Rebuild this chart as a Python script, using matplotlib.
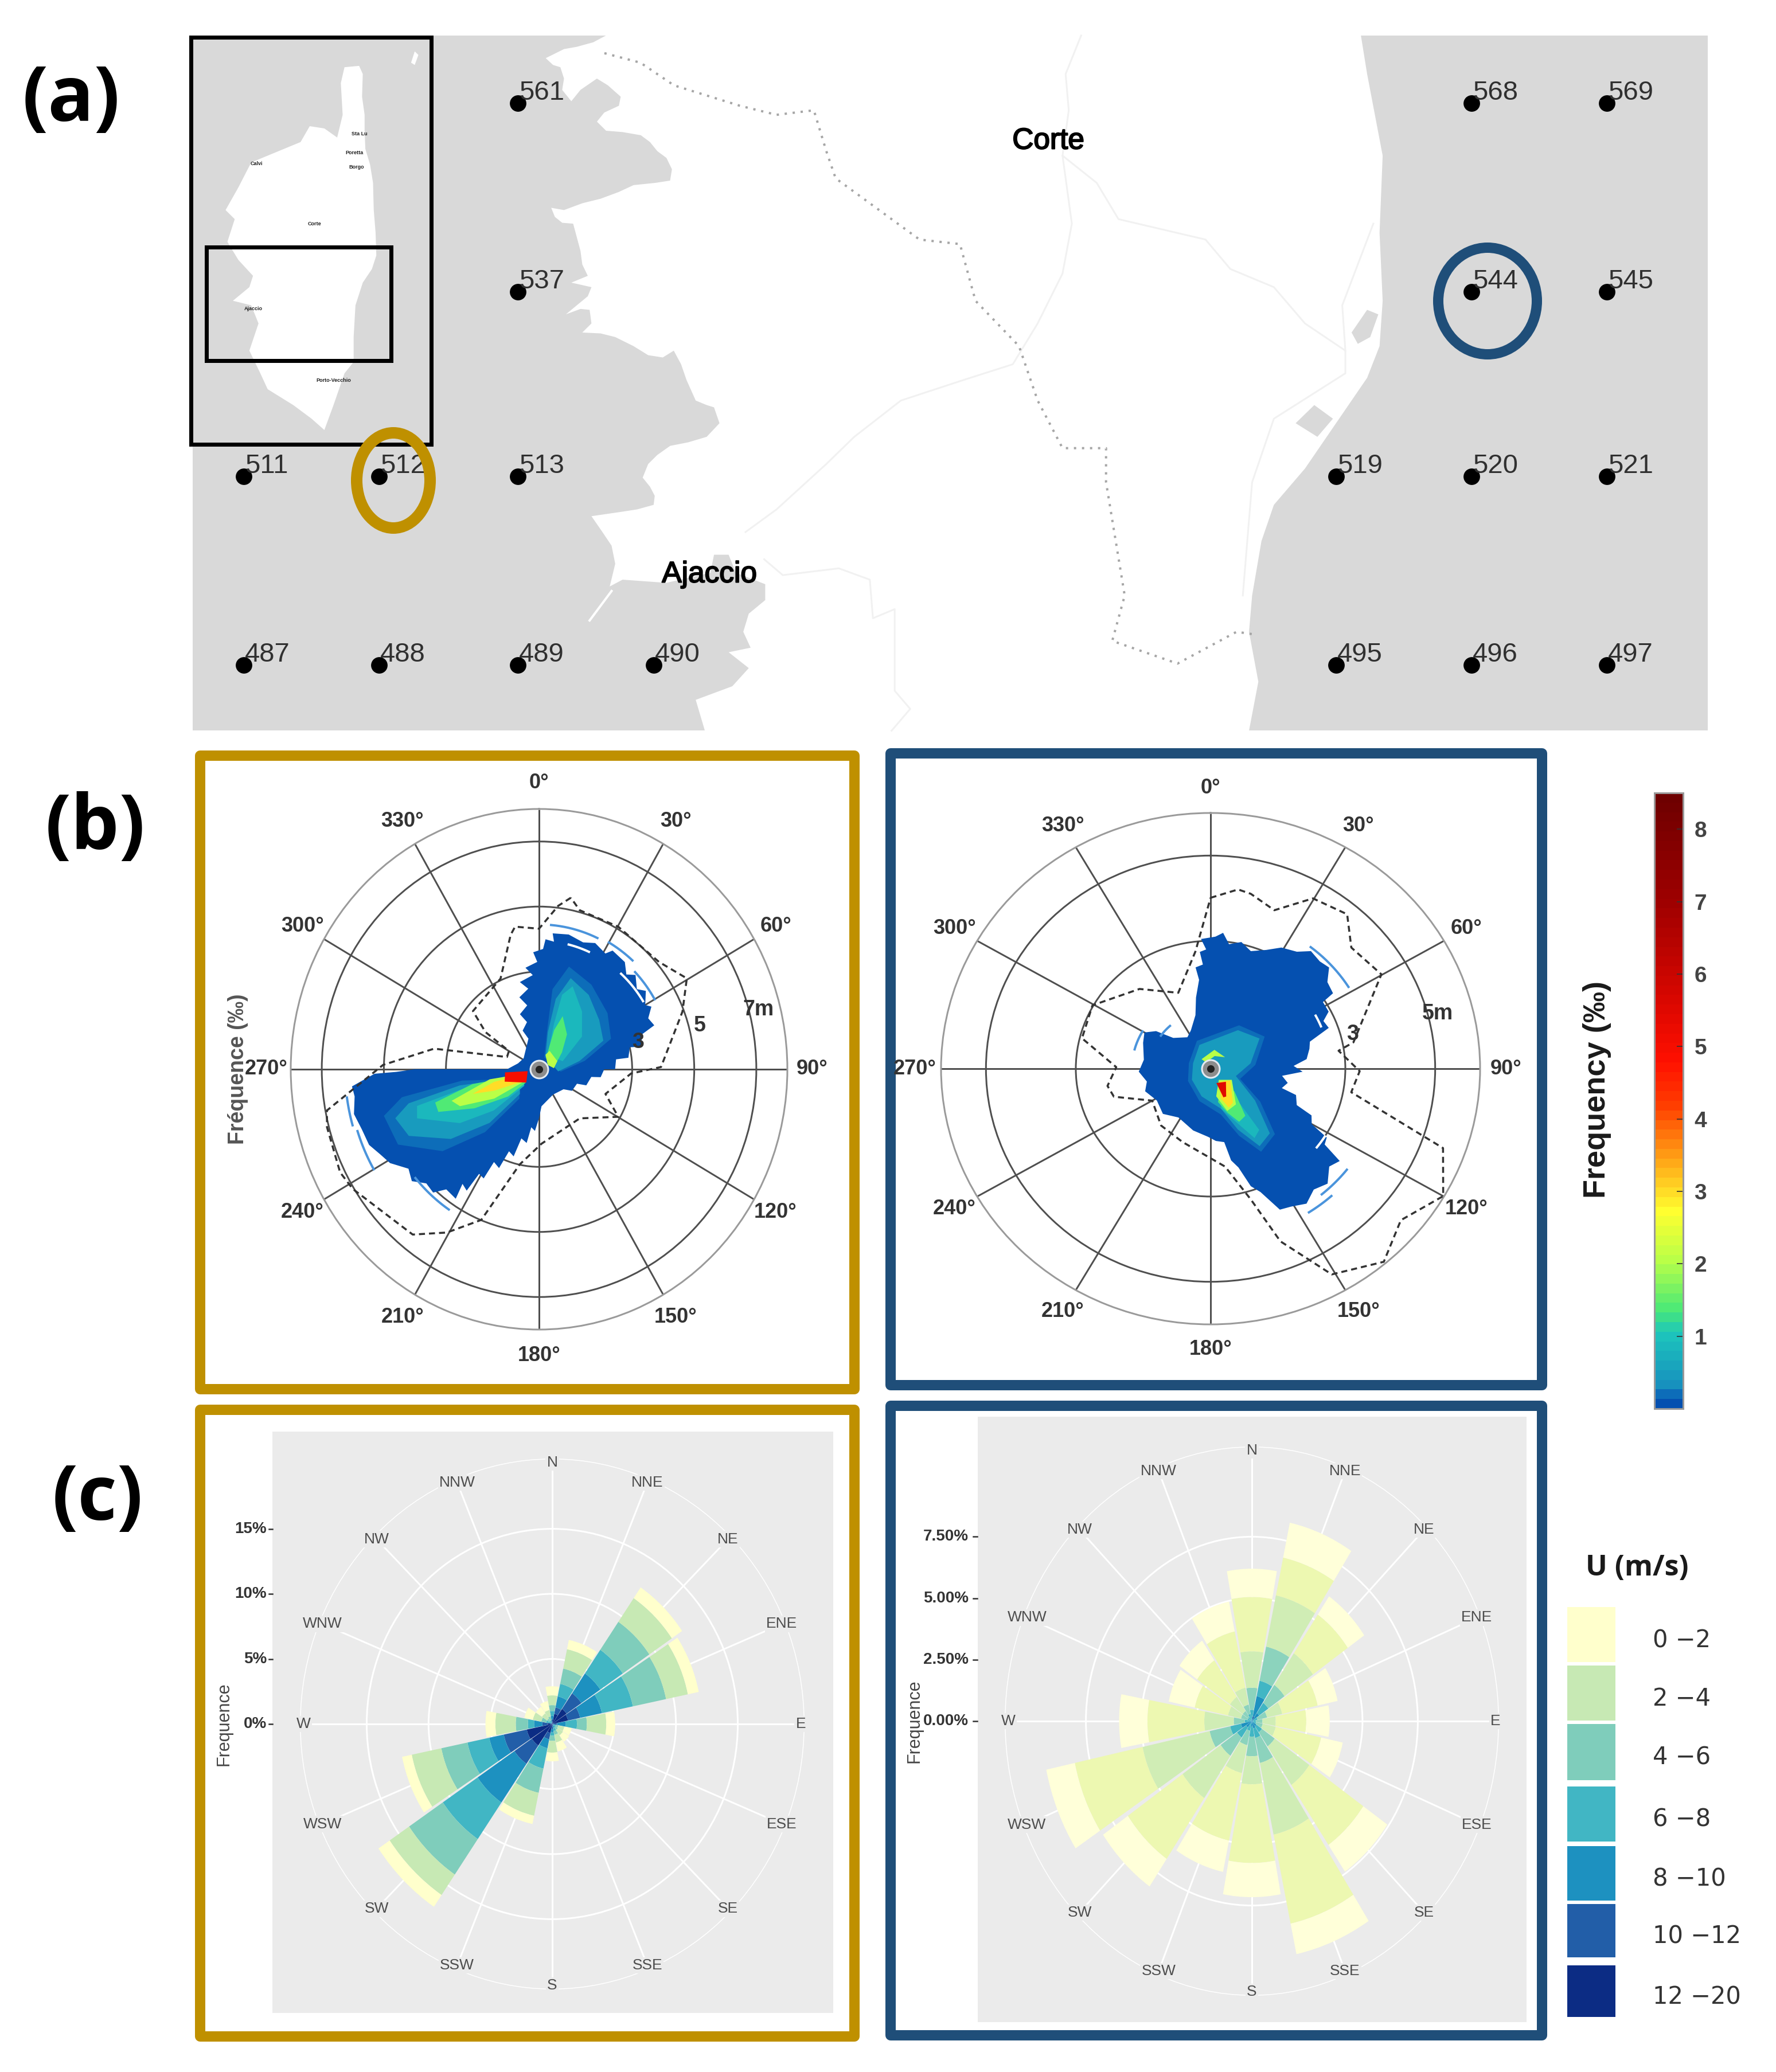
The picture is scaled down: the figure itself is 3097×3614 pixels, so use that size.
import numpy as np
import matplotlib
matplotlib.use('Agg')
import matplotlib.pyplot as plt
from matplotlib.colors import LinearSegmentedColormap, Normalize
from matplotlib.cm import ScalarMappable
from matplotlib.patches import Rectangle, Ellipse, Polygon
import matplotlib.patheffects as pe

plt.rcParams['font.family'] = ['Liberation Sans', 'DejaVu Sans']

W, H = 3097, 3614
GOLD = '#BF9000'
BLUE = '#1F4E79'
SEA = '#D9D9D9'

west_coast = [(1155, 15), (1120, 30), (1075, 40), (1040, 45), (990, 65), (1010, 80), (1030, 85), (1040, 110),
              (1035, 135), (1060, 160), (1085, 135), (1130, 110), (1160, 125), (1195, 150), (1190, 170), (1150, 185),
              (1130, 205), (1155, 225), (1200, 228), (1250, 235), (1275, 250), (1295, 270), (1320, 285), (1335, 310),
              (1330, 335), (1290, 340), (1230, 345), (1190, 360), (1140, 375), (1090, 385), (1040, 400), (1005, 395),
              (1015, 415), (1035, 428), (1065, 430), (1075, 460), (1085, 490), (1090, 520), (1105, 545), (1060, 560),
              (1115, 570), (1105, 590), (1075, 610), (1045, 630), (1085, 618), (1110, 620), (1115, 650), (1090, 670),
              (1140, 672), (1180, 680), (1230, 700), (1270, 720), (1310, 725), (1340, 710), (1360, 740), (1375, 775),
              (1400, 820), (1430, 830), (1450, 835), (1465, 870), (1430, 900), (1380, 912), (1330, 920), (1295, 940),
              (1270, 960), (1255, 990), (1275, 1010), (1288, 1030), (1285, 1050), (1240, 1060), (1200, 1065),
              (1115, 1075), (1145, 1110), (1170, 1140), (1180, 1180), (1165, 1230), (1200, 1215), (1320, 1222),
              (1440, 1200), (1450, 1160), (1490, 1160), (1510, 1200), (1590, 1225), (1590, 1260), (1545, 1290),
              (1530, 1330), (1550, 1365), (1490, 1375), (1545, 1410), (1500, 1450), (1400, 1480), (1425, 1548)]
east_coast = [(810, 1548), (825, 1440), (810, 1330), (815, 1250), (830, 1130), (850, 1050), (900, 970), (950, 870),
              (1000, 770), (1020, 700), (1025, 600), (1020, 450), (1025, 280), (1000, 100), (990, 15)]
pond_north = [(975, 670), (1000, 620), (1018, 630), (1005, 680), (985, 695)]
pond_south = [(885, 870), (915, 830), (945, 860), (920, 900)]
road_a = [(540, 15), (515, 100), (520, 180), (510, 280), (525, 430), (510, 540), (470, 650), (430, 740), (350, 775),
          (250, 820), (175, 900), (130, 960), (50, 1060), (0, 1110)]
road_b = [(510, 280), (565, 340), (600, 420), (740, 465), (780, 530), (850, 570), (900, 650), (965, 710), (965, 760),
          (850, 860), (815, 1000), (800, 1250)]
road_c = [(1010, 430), (960, 610), (965, 710)]
road_d = [(30, 1170), (60, 1205), (150, 1190), (200, 1215), (205, 1300), (240, 1280), (240, 1460), (265, 1500),
          (235, 1548)]
border_line = [(-227, 54), (-169, 75), (-115, 125), (-68, 145), (-9, 170), (50, 190), (110, 180), (130, 270),
               (145, 330), (280, 465), (345, 475), (370, 600), (440, 700), (470, 820), (510, 925), (580, 925),
               (580, 1000), (610, 1250), (590, 1350), (695, 1400), (790, 1330), (815, 1335)]
island = [(440, 85), (480, 82), (490, 100), (488, 150), (495, 190), (495, 225), (497, 265), (510, 300), (518, 340),
          (520, 400), (525, 450), (527, 500), (515, 530), (490, 560), (470, 610), (465, 680), (465, 735), (440, 760),
          (410, 830), (385, 885), (350, 860), (300, 830), (230, 795), (210, 760), (180, 710), (205, 650), (185, 610),
          (135, 600), (180, 570), (190, 545), (150, 510), (120, 470), (140, 420), (115, 400), (150, 350), (185, 295),
          (320, 250), (345, 215), (385, 220), (420, 240), (435, 190), (430, 120)]
islet = [(622, 75), (632, 50), (642, 58), (632, 80)]

station_ids = [561, 537, 511, 512, 513, 487, 488, 489, 490, 568, 569, 544, 545, 519, 520, 521, 495, 496, 497]
station_x = [903, 903, 425, 661, 903, 425, 661, 903, 1140, 2566, 2802, 2566, 2802, 2330, 2566, 2802, 2330, 2566, 2802]
station_y = [180, 509, 831, 831, 831, 1160, 1160, 1160, 1160, 180, 180, 509, 509, 831, 831, 831, 1160, 1160, 1160]

inset_names = ['Sta Lu', 'Poretta', 'Borgo', 'Calvi', 'Corte', 'Ajaccio', 'Porto-Vecchio']
inset_x = [627, 618, 622, 447, 548, 442, 582]
inset_y = [233, 266, 291, 285, 390, 538, 663]

# ---- panel (b): radial frequency plots, direction in degrees and radius in m
dash_left_dir = [11, 7, 0, 350, 347.5, 336, 310, 303.5, 300, 290, 280.6, 271.5, 259.5, 255.4, 243.7, 238.5, 218.7,
                 210.6, 201.9, 192, 178, 139, 119.8, 109.5, 92.5, 89, 69, 59.6, 49.5, 30.2, 15, 11]
dash_left_r = [5.37, 5.06, 4.32, 4.45, 4.23, 3.05, 2.78, 2.07, 1.12, 1.1, 3.44, 5.03, 6.95, 7.06, 7.15, 7.04, 6.51,
               5.83, 4.99, 2.99, 2.29, 2.0, 2.94, 2.27, 2.97, 3.93, 4.95, 5.52, 5.08, 5.07, 5.06, 5.37]
dash_right_dir = [0, 8.3, 12.3, 20.9, 29.7, 40, 47.8, 59.8, 79, 81.6, 91, 100, 109.8, 120, 130, 139.6, 150.8, 159,
                  163.7, 172, 200, 219.6, 240, 253, 260, 271, 284, 299.5, 319.8, 338, 353, 360]
dash_right_r = [4.01, 4.25, 4.2, 3.98, 4.6, 4.73, 4.23, 4.4, 3.24, 2.88, 3.32, 3.18, 5.5, 5.98, 5.53, 5.95, 5.53, 4.34,
                3.2, 2.32, 1.83, 1.73, 1.5, 2.25, 2.33, 2.1, 2.95, 3.02, 2.45, 1.92, 2.77, 4.01]

# outline of the lowest frequency zone, with the teeth of its edge
outline_left_dir = [340, 336, 345, 340, 349, 344, 352, 347, 356, 352, 359, 357, 2, 3, 7, 6, 13, 20, 25, 31, 33, 40, 44,
                    47, 52, 55, 60, 62, 66, 70, 72, 78, 77, 83, 83, 90, 90, 97, 98, 108, 110, 122, 128, 150, 176, 180,
                    184, 188, 190, 195, 197, 201, 203, 207, 208, 211, 212, 215, 214, 219, 222, 226, 230, 234, 239, 243,
                    247, 252, 257, 262, 265, 267, 268.5, 269, 270, 270, 285, 304]
outline_left_r = [1.0, 1.3, 1.5, 1.8, 2.0, 2.3, 2.5, 2.75, 2.9, 3.15, 3.3, 3.6, 3.7, 4.0, 3.95, 4.2, 4.25, 4.15, 4.28,
                  4.15, 4.35, 4.3, 4.05, 4.25, 4.0, 4.2, 3.95, 4.1, 3.85, 3.95, 3.5, 3.35, 3.0, 2.9, 2.5, 2.45, 2.1,
                  2.0, 1.7, 1.6, 1.3, 1.25, 1.0, 0.9, 1.14, 1.5, 1.9, 1.8, 2.3, 2.2, 2.8, 2.7, 3.3, 3.2, 3.8, 3.75, 4.4,
                  4.3, 4.8, 4.75, 5.1, 5.05, 5.35, 5.2, 5.6, 5.75, 5.95, 6.0, 6.12, 6.0, 6.05, 5.6, 5.3, 4.6, 4.0, 1.03,
                  0.7, 0.6]
outline_right_dir = [334, 345, 349, 353, 352, 356, 355, 358, 356, 2, 5, 8, 13, 18, 24, 29, 35, 39, 44, 48, 52, 57, 58,
                     63, 66, 70, 74, 78, 84, 88, 92, 96, 101, 106, 108, 114, 116, 120, 122, 125, 127, 131, 136, 141,
                     146, 151, 155, 159, 162, 165, 168, 170, 176, 182, 195, 212, 225, 238, 250, 258, 267.5, 278, 292,
                     300, 306, 311, 325]
outline_right_r = [1.0, 1.3, 1.7, 2.1, 2.4, 2.45, 2.75, 2.8, 3.05, 3.1, 3.2, 2.95, 3.05, 2.9, 3.05, 3.25, 3.35, 3.55,
                   3.5, 3.55, 3.3, 3.25, 2.95, 2.95, 2.75, 2.8, 2.3, 2.25, 2.15, 1.85, 2.05, 1.6, 1.75, 1.65, 2.0, 2.1,
                   2.5, 2.6, 3.05, 3.1, 3.6, 3.5, 3.75, 3.65, 3.82, 3.7, 3.65, 3.1, 2.9, 2.4, 2.2, 1.75, 1.7, 1.6, 1.5,
                   1.35, 1.5, 1.41, 1.55, 1.45, 1.6, 1.5, 1.62, 1.7, 1.5, 1.1, 0.9]

# (frequency level, directions, radii) of the filled zones, lowest level first
zones_left = [
    (0.02, outline_left_dir, outline_left_r),
    (0.2, [25, 12, 10, 17, 33, 52, 68, 80, 96], [0.4, 1.3, 2.5, 3.3, 3.1, 2.8, 2.5, 1.5, 0.7]),
    (0.2, [245, 262, 259, 254, 243, 231, 222, 215], [0.7, 2.5, 4.5, 5.2, 5.1, 4.0, 2.6, 1.1]),
    (0.5, [29, 14, 14, 20, 35, 52, 67, 79, 96], [0.43, 1.17, 2.23, 2.98, 2.79, 2.46, 2.25, 1.33, 0.62]),
    (0.5, [248, 259, 256, 252, 244, 233, 224, 219], [0.67, 2.6, 4.33, 4.87, 4.67, 3.56, 2.29, 0.98]),
    (0.9, [32, 19, 18, 23, 38, 54, 72], [0.52, 1.48, 2.41, 2.77, 2.25, 1.71, 0.8]),
    (0.9, [248, 256, 254, 249, 237, 229, 223], [0.52, 2.63, 4.09, 4.21, 3.04, 1.93, 0.7]),
    (1.4, [30, 22, 25, 40, 55, 70], [0.5, 1.3, 1.8, 1.4, 0.9, 0.6]),
    (1.4, [252, 258, 253, 248, 240, 230, 226], [0.5, 2.2, 3.5, 3.5, 2.4, 1.3, 0.6]),
    (2.1, [25, 31, 67, 86, 65], [0.49, 0.66, 0.64, 0.48, 0.31]),
    (2.1, [255, 259, 251, 246, 238, 232], [0.5, 1.62, 2.98, 2.79, 1.7, 0.61]),
    (3.0, [253, 255, 250.5, 245.5, 233], [0.5, 1.5, 2.27, 1.59, 0.6]),
    (5.0, [261, 265, 251, 225], [0.37, 1.1, 1.17, 0.58]),
]
zones_right = [
    (0.02, outline_right_dir, outline_right_r),
    (0.2, [285, 335, 32, 58, 85, 110, 125, 137, 150, 158, 168, 198, 240],
     [0.5, 0.72, 1.2, 1.42, 1.0, 0.7, 1.35, 2.1, 2.25, 1.7, 1.1, 0.8, 0.58]),
    (0.5, [288, 336, 34, 57, 82, 107, 127, 139, 149, 157, 166, 197, 238],
     [0.41, 0.61, 1.09, 1.3, 0.9, 0.59, 1.24, 2.01, 2.12, 1.55, 0.97, 0.68, 0.49]),
    (0.9, [147, 141, 143, 149, 156, 166], [0.43, 0.97, 1.8, 1.9, 1.35, 0.97]),
    (1.4, [146, 135, 145, 153, 160, 168], [0.4, 0.75, 1.35, 1.4, 1.1, 0.8]),
    (2.1, [145, 119, 146, 159.5, 169], [0.32, 0.54, 1.01, 1.06, 0.66]),
    (2.1, [318, 11, 50, 17, 326], [0.3, 0.45, 0.42, 0.31, 0.18]),
    (3.0, [146, 122, 148, 156, 162], [0.37, 0.52, 0.94, 1.0, 0.74]),
    (5.5, [159, 132, 152, 157], [0.36, 0.46, 0.74, 0.73]),
]
# thin arcs at the edge of the zones: first direction, last direction, radius
arcs_left = [(5, 25, 4.45), (30, 42, 4.5), (46, 60, 4.3), (214, 230, 5.2), (240, 252, 6.15), (254, 262, 6.25)]
arcs_right = [(38, 58, 3.62), (128, 140, 3.85), (138, 147, 4.02), (285, 300, 1.75), (305, 318, 1.35)]
cuts_left = [(14, 24, 3.95), (42, 58, 3.95)]
cuts_right = [(62, 68, 2.65), (122, 128, 3.0)]

angle_labels = [0, 30, 60, 90, 120, 150, 180, 210, 240, 270, 300, 330]

# colour bar of panel (b)
freq_levels = [0, 0.1, 0.25, 1.0, 1.3, 2.0, 2.7, 3.5, 4.2, 4.8, 5.5, 7.0, 8.5]
freq_colors = ['#0550B0', '#0A62B8', '#1790BE', '#1DC6BC', '#48E878', '#B8FF48', '#FFFF30', '#FF9A14', '#FF3C00',
               '#FF1000', '#E00800', '#A00000', '#6E0000']
freq_ticks = [1, 2, 3, 4, 5, 6, 7, 8]

# ---- panel (c): wind roses, % per speed class, from the lowest class to the highest
sectors = ['N', 'NNE', 'NE', 'ENE', 'E', 'ESE', 'SE', 'SSE', 'S', 'SSW', 'SW', 'WSW', 'W', 'WNW', 'NW', 'NNW']
speed_labels = ['0 −2', '2 −4', '4 −6', '6 −8', '8 −10', '10 −12', '12 −20']
speed_colors = ['#FFFFCC', '#C7E9B4', '#7FCDBB', '#41B6C4', '#1D91C0', '#225EA8', '#0C2C84']
rose_right_colors = ['#FFFFD9', '#EDF8B1', '#D0EDB5', '#8CD3BD', '#41B6C4', '#1D91C0', '#225EA8']

rose_left = [
    # N, NNE, NE, ENE, E, ESE, SE, SSE, S, SSW, SW, WSW, W, WNW, NW, NNW
    [0.7, 0.73, 1.0, 0.9, 0.72, 0.6, 0.6, 0.7, 0.67, 0.65, 1.1, 0.8, 0.8, 0.7, 0.6, 0.7],
    [0.75, 1.52, 2.2, 1.8, 1.57, 0.5, 0.5, 0.6, 0.9, 1.8, 1.9, 2.44, 1.65, 0.7, 0.5, 0.5],
    [0.45, 1.2, 2.6, 2.74, 0.8, 0.2, 0.2, 0.3, 0.4, 1.9, 3.3, 2.16, 0.98, 0.4, 0.2, 0.3],
    [0.35, 0.98, 2.2, 2.56, 0.9, 0.15, 0.2, 0.25, 0.25, 1.6, 3.4, 1.8, 0.5, 0.25, 0.15, 0.15],
    [0.3, 0.87, 1.85, 1.8, 0.7, 0.1, 0.1, 0.15, 0.25, 0.7, 3.6, 1.2, 0.67, 0.15, 0.1, 0.1],
    [0.2, 0.5, 1.45, 1.0, 0.3, 0.05, 0.05, 0.1, 0.2, 0.5, 1.7, 1.9, 0.4, 0.05, 0.03, 0.03],
    [0.15, 0.8, 1.4, 1.3, 0.1, 0.0, 0.0, 0.05, 0.2, 0.7, 2.0, 2.1, 0.4, 0.05, 0.02, 0.02],
]
rose_right = [
    [1.15, 1.45, 0.9, 0.92, 1.06, 1.0, 1.32, 1.27, 1.39, 1.3, 1.36, 1.32, 1.28, 1.2, 0.97, 1.24],
    [2.21, 1.57, 1.91, 1.64, 1.38, 2.1, 2.96, 3.7, 3.2, 2.81, 3.0, 3.13, 2.57, 1.54, 1.8, 2.34],
    [1.48, 2.13, 1.56, 0.7, 0.6, 0.6, 1.9, 2.98, 1.14, 1.16, 2.09, 3.1, 1.33, 0.6, 0.7, 0.7],
    [0.9, 1.42, 0.89, 0.44, 0.3, 0.3, 0.7, 1.04, 0.8, 0.6, 0.9, 0.95, 0.5, 0.3, 0.3, 0.39],
    [0.4, 0.64, 0.5, 0.2, 0.1, 0.15, 0.3, 0.4, 0.4, 0.3, 0.5, 0.5, 0.2, 0.15, 0.15, 0.2],
    [0.06, 0.84, 0.4, 0.06, 0.08, 0.05, 0.25, 0.3, 0.23, 0.1, 0.31, 0.5, 0.12, 0.05, 0.05, 0.1],
    [0.0, 0.2, 0.0, 0.0, 0.0, 0.0, 0.0, 0.0, 0.0, 0.0, 0.0, 0.0, 0.0, 0.0, 0.0, 0.0],
]


def crop_left(points):
    return np.array(points, dtype=float) * [0.638, 0.791] + [320, 50]


def crop_right(points):
    return np.array(points, dtype=float) * [1.084, 0.791] + [1300, 50]


def px(width):
    return width * 72 / 100


def polar_box(cx, cy, rx, ry, rmax):
    ax = fig.add_axes([(cx - rx) / W, 1 - (cy + ry) / H, 2 * rx / W, 2 * ry / H], projection='polar')
    ax.set_aspect('auto')
    ax.set_theta_zero_location('N')
    ax.set_theta_direction(-1)
    ax.set_ylim(0, rmax)
    ax.patch.set_alpha(0)
    ax.tick_params(length=0)
    ax.set_axisbelow(True)
    return ax


def frequency_plot(cx, cy, rx, ry, rmax, rings, zones, arcs, cuts, dash_dir, dash_r, label_r, ring_labels, ring_dir):
    ax = polar_box(cx, cy, rx, ry, rmax)
    ax.set_xticks(np.deg2rad(angle_labels))
    ax.set_yticks(rings)
    ax.set_xticklabels([])
    ax.set_yticklabels([])
    ax.grid(True, color='#4F4F4F', lw=px(3))
    ax.spines['polar'].set_color('#9A9A9A')
    ax.spines['polar'].set_linewidth(px(3))
    for level, dirs, radii in zones:
        ax.fill(np.deg2rad(dirs), radii, color=freq_cmap(freq_norm(level)), lw=0, zorder=3)
    for first, last, r in arcs:
        ax.plot(np.deg2rad(np.linspace(first, last, 12)), [r] * 12, color='#4A94DC', lw=px(4), zorder=3)
    for first, last, r in cuts:
        ax.plot(np.deg2rad(np.linspace(first, last, 12)), [r] * 12, color='white', lw=px(4), zorder=3)
    ax.plot(np.deg2rad(dash_dir), dash_r, color='#333333', ls=(0, (3, 2)), lw=px(3.5), zorder=4)
    ax.scatter([0], [0], s=600, color='#E3EAF2', zorder=5, lw=0)
    ax.scatter([0], [0], s=400, color='#8C8C8C', zorder=6, lw=0)
    ax.scatter([0], [0], s=90, color='#222222', zorder=7, lw=0)
    for a in angle_labels:
        ax.text(np.deg2rad(a), label_r, '%d°' % a, ha='center', va='center', fontsize=26, color='#333333',
                fontweight='bold', zorder=8)
    for text, r in ring_labels:
        ax.text(np.deg2rad(ring_dir), r, text, ha='center', va='center', fontsize=27, color='#333333',
                fontweight='bold', zorder=8)
    return ax


def wind_rose(cx, cy, rx, ry, rmax, rings, table, colors, width):
    ax = polar_box(cx, cy, rx, ry, rmax)
    directions = np.deg2rad(np.arange(16) * 22.5)
    ax.set_xticks(directions)
    ax.set_yticks(rings)
    ax.set_xticklabels([])
    ax.set_yticklabels([])
    ax.grid(True, color='white', lw=px(3))
    ax.spines['polar'].set_visible(False)
    # fastest class sits on the centre, the slowest on the outside
    bottom = np.zeros(16)
    for values, color in zip(table[::-1], colors[::-1]):
        ax.bar(directions, values, width=np.deg2rad(width), bottom=bottom, color=color, lw=0, zorder=3)
        bottom = bottom + np.array(values)
    for d, name in zip(directions, sectors):
        ax.text(d, rings[-1] * 0.985, name, ha='center', va='center', fontsize=19, color='#4D4D4D', zorder=4,
                bbox=dict(facecolor='#EBEBEB', edgecolor='none', pad=1.5))
    return ax


fig = plt.figure(figsize=(W / 100, H / 100), dpi=100, facecolor='white')
page = fig.add_axes([0, 0, 1, 1])
page.set_xlim(0, W)
page.set_ylim(H, 0)
page.axis('off')

# ---- map
page.add_patch(Rectangle((336, 62), 2642, 1212, facecolor=SEA, edgecolor='none'))
land = np.vstack([crop_left(west_coast), crop_right(east_coast)])
page.add_patch(Polygon(land, closed=True, facecolor='white', edgecolor='none'))
for pond in (pond_north, pond_south):
    page.add_patch(Polygon(crop_right(pond), closed=True, facecolor=SEA, edgecolor='none'))
for road in (road_a, road_b, road_c, road_d):
    xy = crop_right(road)
    page.plot(xy[:, 0], xy[:, 1], color='#F1F1F1', lw=px(3))
xy = crop_right(border_line)
page.plot(xy[:, 0], xy[:, 1], color='#A6A6A6', lw=px(4), ls=(0, (1, 2.5)))
page.plot(*crop_left([(1110, 1305), (1170, 1240)]).T, color='white', lw=px(4))

page.scatter(station_x, station_y, s=430, color='black', lw=0, zorder=4)
for sid, x, y in zip(station_ids, station_x, station_y):
    page.text(x + 2, y - 18, str(sid), ha='left', va='center', fontsize=34, color='#303030', zorder=5)
for name, x, y in (('Corte', 1828, 246), ('Ajaccio', 1237, 1002)):
    page.text(x, y, name, ha='center', va='center', fontsize=37, color='black', zorder=5,
              path_effects=[pe.withStroke(linewidth=1.5, foreground='black')])

page.add_patch(Rectangle((333, 65), 419, 710, facecolor=SEA, edgecolor='black', lw=px(7), zorder=6))
page.add_patch(Polygon(crop_left(island), closed=True, facecolor='white', edgecolor='none', zorder=6))
page.add_patch(Polygon(crop_left(islet), closed=True, facecolor='white', edgecolor='none', zorder=6))
page.add_patch(Rectangle((360, 431), 322, 198, facecolor='none', edgecolor='black', lw=px(7), zorder=7))
for name, x, y in zip(inset_names, inset_x, inset_y):
    page.text(x, y, name, ha='center', va='center', fontsize=6.5, color='#222222', fontweight='bold', zorder=7)

page.add_patch(Ellipse((686, 838), 128, 166, facecolor='none', edgecolor=GOLD, lw=px(20), zorder=8))
page.add_patch(Ellipse((2594, 525), 172, 186, facecolor='none', edgecolor=BLUE, lw=px(18), zorder=8))

# ---- panel frames and backgrounds
for x0, y0, x1, y1, color in ((349, 1318, 1490, 2423, GOLD), (1553, 1314, 2689, 2416, BLUE),
                              (349, 2459, 1490, 3552, GOLD), (1553, 2452, 2689, 3550, BLUE)):
    page.add_patch(Rectangle((x0, y0), x1 - x0, y1 - y0, facecolor='none', edgecolor=color, lw=px(18),
                             joinstyle='round'))
page.add_patch(Rectangle((475, 2497), 978, 1014, facecolor='#EBEBEB', edgecolor='none'))
page.add_patch(Rectangle((1705, 2471), 957, 1056, facecolor='#EBEBEB', edgecolor='none'))

for label, x, y in (('(a)', 124, 176), ('(b)', 166, 1447), ('(c)', 170, 2617)):
    page.text(x, y, label, ha='center', va='center', fontsize=96, fontweight='bold', family='Open Sans', color='black')

# ---- panel (b)
freq_norm = Normalize(0, 8.5)
freq_cmap = LinearSegmentedColormap.from_list('freq', [(v / 8.5, c) for v, c in zip(freq_levels, freq_colors)], N=64)

frequency_plot(940, 1865, 433, 454, 8, [3, 5, 7], zones_left, arcs_left, cuts_left, dash_left_dir, dash_left_r, 8.8,
               [('3', 3.3), ('5', 5.34), ('7m', 7.3)], 75.5)
frequency_plot(2111, 1864, 470, 446, 6, [3, 5], zones_right, arcs_right, cuts_right, dash_right_dir, dash_right_r, 6.58,
               [('3', 3.26), ('5m', 5.22)], 75.6)
page.text(415, 1865, 'Fréquence (‰)', rotation=90, ha='center', va='center', fontsize=27, fontweight='bold',
          color='#555555')

cax = fig.add_axes([2885 / W, 1 - 2457 / H, 50 / W, 1074 / H])
cbar = fig.colorbar(ScalarMappable(norm=freq_norm, cmap=freq_cmap), cax=cax, ticks=freq_ticks)
cbar.outline.set_edgecolor('#999999')
cbar.outline.set_linewidth(px(3))
cax.tick_params(axis='y', direction='in', length=8, width=1.2, color='#333333', pad=14, labelsize=28,
                labelcolor='#444444')
for t in cax.get_yticklabels():
    t.set_fontweight('bold')
page.text(2785, 1900, 'Frequency (‰)', rotation=90, ha='center', va='center', fontsize=39, fontweight='bold',
          color='#1A1A1A')

# ---- panel (c)
wind_rose(963, 3007, 440, 463, 20.4, [5, 10, 15, 20.4], rose_left, speed_colors, 21.5)
wind_rose(2183, 3002, 431, 479, 11.17, [2.5, 5, 7.5, 11.17], rose_right, rose_right_colors, 21)
for value, label in zip([0, 5, 10, 15], ['0%', '5%', '10%', '15%']):
    y = 3007 - value * 463 / 20.4
    page.text(465, y, label, ha='right', va='center', fontsize=20, fontweight='bold', color='#333333')
    page.plot([469, 475], [y, y], color='#333333', lw=px(2.5))
for value, label in zip([0, 2.5, 5, 7.5], ['0.00%', '2.50%', '5.00%', '7.50%']):
    y = 3002 - value * 479 / 11.17
    page.text(1689, y, label, ha='right', va='center', fontsize=20, fontweight='bold', color='#333333')
    page.plot([1697, 1704], [y, y], color='#333333', lw=px(2.5))
page.text(390, 3007, 'Frequence', rotation=90, ha='center', va='center', fontsize=22, color='#444444')
page.text(1594, 3002, 'Frequence', rotation=90, ha='center', va='center', fontsize=22, color='#444444')

# legend of the speed classes
swatch_top = [2803, 2905, 3007, 3116, 3220, 3321, 3428]
swatch_bottom = [2899, 3001, 3105, 3212, 3315, 3414, 3518]
page.text(2855, 2735, 'U (m/s)', ha='center', va='center', fontsize=36, fontweight='bold', family='Open Sans',
          color='#1A1A1A')
for y0, y1, color, label in zip(swatch_top, swatch_bottom, speed_colors, speed_labels):
    page.add_patch(Rectangle((2733, y0), 84, y1 - y0, facecolor=color, edgecolor='none'))
    page.text(2882, (y0 + y1) / 2 + 10, label, ha='left', va='center', fontsize=30, family='DejaVu Sans',
              color='#333333')

fig.savefig('out.png', dpi=100)
